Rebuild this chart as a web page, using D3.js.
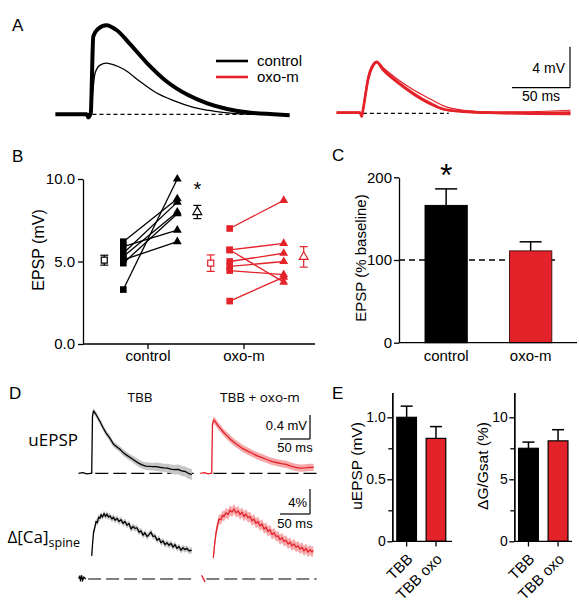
<!DOCTYPE html>
<html><head><meta charset="utf-8">
<script src="https://cdn.jsdelivr.net/npm/d3@7"></script>
<style>body{margin:0;background:#fff}svg{display:block}</style>
</head><body><svg id="c" width="579" height="610"></svg>
<script>
// ---------------- DATA ----------------
// Panel A: average EPSP traces (time ms, mV)
const aControlBig = [[-29,0],[-2,0],[-0.6,-0.3],[1.5,0.1],[3.7,7.6],[8,8.35],[15,8.7],[24,8.2],[35,6.9],[50,5.0],[67,3.2],[85,1.9],[102,1.07],[119,0.52],[136,0.2],[159,0],[173,-0.1]];
const aControlSmall = [[-2,0],[0.9,0.1],[5.2,4.0],[9.5,4.8],[15,5.0],[22,4.8],[30,4.4],[44,3.2],[58,2.1],[73,1.33],[90,0.68],[107,0.32],[124,0.1],[142,0]];
const aOxo1 = [[-21.6,0.05],[-1.5,0.05],[0,-0.33],[1.4,0.5],[5.7,3.4],[10,4.7],[12.9,5.03],[18.6,4.3],[30,3.15],[44.5,1.95],[59,0.98],[70,0.42],[88,0.16],[116,0.03],[145,-0.04],[180,-0.07]];
const aOxo2 = [[-21.6,0],[-1.5,0],[0,-0.3],[1.4,0.4],[5.7,3.2],[10,4.6],[13.5,4.95],[19,4.4],[30,3.4],[44.5,2.3],[59,1.4],[70,0.75],[88,0.3],[116,0.12],[145,0.15],[180,0.3]];
const aOxo3 = [[-21.6,0.1],[-1.5,0.1],[0,-0.2],[1.4,0.6],[5.7,3.6],[10,4.8],[12.5,5.0],[18,4.25],[30,3.05],[44.5,1.85],[59,0.9],[70,0.4],[88,0.18],[116,0.08],[145,0.05],[180,0.1]];
const legendLabels = ["control","oxo-m"];

// Panel B: paired EPSP (mV)
const bGroups = ["control","oxo-m"];
const bControlPre  = [6.2, 5.9, 5.5, 5.3, 5.1, 4.9, 3.3];
const bControlPost = [8.8, 6.9, 8.6, 8.0, 6.2, 7.9, 10.0];
const bOxoPre  = [7.0, 5.7, 5.7, 5.0, 4.7, 4.45, 2.6];
const bOxoPost = [8.7, 6.1, 3.75, 5.5, 5.0, 4.2, 4.05];
const bMeanPre  = [5.08, 4.9];
const bSemPre   = [0.3, 0.5];
const bMeanPost = [8.0, 5.28];
const bSemPost  = [0.4, 0.62];
const bTicks = [0, 5, 10];

// Panel C: EPSP (% baseline)
const cCats = ["control","oxo-m"];
const cVals = [166, 111];
const cSem  = [20, 11];
const cTicks = [0, 100, 200];

// Panel D: uEPSP (ms, mV, sem) and Ca (ms, %)
const dUepspTBB = [[-22,0,0.02],[-15,0.01,0.02],[-8,-0.01,0.02],[-2,0,0.02],[0,0,0.02],[1.3,0.95,0.05],[3,1.04,0.05],[6,1.0,0.05],[10,0.93,0.05],[14,0.86,0.05],[19,0.76,0.05],[24,0.67,0.05],[30,0.59,0.05],[36,0.49,0.05],[42,0.44,0.05],[47,0.40,0.05],[53,0.34,0.055],[60,0.29,0.055],[66,0.25,0.055],[72,0.21,0.06],[78,0.17,0.06],[84,0.14,0.06],[90,0.12,0.065],[96,0.115,0.065],[102,0.11,0.065],[108,0.11,0.07],[114,0.10,0.07],[120,0.09,0.07],[126,0.085,0.075],[132,0.07,0.075],[138,0.06,0.08],[144,0.065,0.08],[150,0.04,0.085],[156,0.03,0.085],[161,0.0,0.09],[167,-0.02,0.09]];
const dUepspOxo = [[-19,0,0.02],[-12,0.01,0.02],[-6,-0.01,0.02],[-2,0,0.02],[0,0,0.02],[1.3,0.82,0.06],[3.5,0.89,0.06],[6,0.86,0.06],[10,0.8,0.06],[15,0.74,0.06],[20,0.68,0.06],[26,0.62,0.06],[32,0.56,0.06],[38,0.51,0.06],[45,0.46,0.06],[52,0.41,0.06],[60,0.37,0.06],[68,0.33,0.06],[76,0.29,0.06],[84,0.26,0.06],[92,0.23,0.06],[100,0.2,0.06],[108,0.18,0.06],[116,0.16,0.06],[124,0.15,0.06],[132,0.12,0.06],[140,0.1,0.06],[148,0.085,0.06],[156,0.09,0.06],[163,0.1,0.06],[170,0.1,0.06]];
const dCaTBB = [[0,3.7],[1.3,5.4],[3,7.4],[5.5,8.4],[7.2,9.2],[9.7,9.0],[11.3,9.9],[13.8,9.7],[15.5,10.3],[18,9.9],[20.5,10.5],[23,10.0],[25.5,10.4],[28,9.9],[30.5,10.1],[33.8,9.6],[36.3,9.9],[38.8,9.4],[42.2,9.7],[45.5,9.2],[48.8,9.5],[52.2,8.9],[55.5,9.2],[58.8,8.6],[62.2,8.9],[65.5,8.0],[68.8,8.4],[72.2,8.1],[75.5,8.2],[78.8,7.5],[82.2,7.7],[85.5,7.0],[88.8,7.4],[92.2,6.8],[95.5,7.1],[98.8,7.5],[102.2,6.8],[105.5,6.9],[108.8,6.2],[112.2,6.5],[115.5,5.8],[118.8,6.1],[122.2,5.5],[125.5,5.8],[128.8,5.4],[132.2,5.7],[135.5,5.1],[138.8,5.5],[142.2,4.9],[145.5,5.2],[148.8,4.6],[152.2,5.0],[155.5,4.7],[158.8,4.9],[162.2,4.5],[166.7,4.6]];
const dCaOxo = [[2.7,3.4],[4.7,5.4],[7.2,7.4],[9.7,8.6],[12.2,9.6],[15.5,9.5],[18,10.2],[20.5,10.0],[23.8,10.6],[27.2,10.3],[30.5,11.0],[33.8,10.7],[37.2,11.2],[40.5,10.6],[43.8,10.9],[47.2,10.3],[50.5,10.7],[53.8,10.0],[57.2,10.4],[60.5,9.8],[63.8,10.0],[67.2,9.3],[70.5,9.6],[73.8,8.9],[77.2,9.2],[80.5,8.5],[83.8,8.8],[87.2,8.0],[90.5,8.3],[93.8,7.6],[97.2,7.9],[100.5,7.1],[103.8,7.4],[107.2,6.8],[110.5,6.9],[113.8,6.3],[117.2,6.6],[120.5,6.0],[123.8,6.2],[127.2,5.6],[130.5,5.9],[133.8,5.3],[137.2,5.6],[140.5,5.1],[143.8,5.3],[147.2,4.8],[150.5,5.1],[153.8,4.5],[157.2,4.9],[160.5,4.3],[163.8,4.7],[167.2,4.3],[169.3,4.6]];
const dCaTBBpre = [[-22,0.1],[-20,0.4],[-18.5,-0.4],[-17,0.6],[-15,-0.2],[-13,0.3],[-10,0]];
const dCaOxoPre = [[-17,0.6],[-15,0.3],[-13,-0.1],[-11,-0.5]];
const dCaSemTBB = 0.5, dCaSemOxo = 0.8;
const dTitles = ["TBB","TBB + oxo-m"];

// Panel E
const eCats = ["TBB","TBB oxo"];
const eUepsp = [1.0, 0.83];
const eUepspSem = [0.09, 0.095];
const eDG = [7.5, 8.1];
const eDGSem = [0.5, 0.9];

// ---------------- DRAW ----------------
const W=579, H=610;
const RED="#e4222a", PINK="#f6a9ab", GRAY="#c6c6c6";
const FONT='"Liberation Sans", Arial, sans-serif';
const DFONT='"Open Sans", Lato, sans-serif';
const svg=d3.select("#c");
svg.append("rect").attr("width",W).attr("height",H).attr("fill","#fff");

function txt(x,y,s,fs,anchor,fam,col){
  return svg.append("text").attr("x",x).attr("y",y).attr("font-size",fs)
    .attr("font-family",fam||FONT).attr("text-anchor",anchor||"start").attr("fill",col||"#000").text(s);
}
function hline(x1,x2,y,w,dash,col){
  return svg.append("line").attr("x1",x1).attr("x2",x2).attr("y1",y).attr("y2",y)
   .attr("stroke",col||"#000").attr("stroke-width",w||1.3).attr("stroke-dasharray",dash||null);
}
function vline(x,y1,y2,w,col){
  return svg.append("line").attr("x1",x).attr("x2",x).attr("y1",y1).attr("y2",y2)
   .attr("stroke",col||"#000").attr("stroke-width",w||1.3);
}
function styleAxis(g,fs){
  g.attr("font-family",FONT).attr("font-size",fs);
  g.selectAll("path,line").attr("stroke","#000").attr("stroke-width",1.3);
  g.selectAll("text").attr("fill","#000");
}

// panel letters
[["A",12,31],["B",12,162],["C",332,161],["D",9,399],["E",332,399]].forEach(d=>txt(d[1],d[2],d[0],17));

// ---- Panel A ----
const xA=d3.scaleLinear().domain([0,50]).range([89,147]);
const yA=d3.scaleLinear().domain([0,4]).range([114.3,73.3]);
const xAr=d3.scaleLinear().domain([0,50]).range([361.7,419.7]);
const yAr=d3.scaleLinear().domain([0,4]).range([113.3,72.3]);
hline(xA(3),xA(170),yA(0),1.2,"4,3");
hline(xAr(1),xAr(75),yAr(0),1.2,"4,3");
const lineA=d3.line().x(d=>xA(d[0])).y(d=>yA(d[1])).curve(d3.curveMonotoneX);
const lineAr=d3.line().x(d=>xAr(d[0])).y(d=>yAr(d[1])).curve(d3.curveMonotoneX);
svg.append("path").attr("d",lineA(aControlSmall)).attr("fill","none").attr("stroke","#000").attr("stroke-width",1.3);
svg.append("path").attr("d",lineA(aControlBig)).attr("fill","none").attr("stroke","#000").attr("stroke-width",4).attr("stroke-linejoin","round");
[[aOxo2,1.2],[aOxo3,2],[aOxo1,2.6]].forEach(([d,w])=>svg.append("path").attr("d",lineAr(d)).attr("fill","none").attr("stroke",RED).attr("stroke-width",w).attr("stroke-linejoin","round"));
legendLabels.forEach((l,i)=>{
  hline(216,248,61+i*16,2.6,null,i?RED:"#000");
  txt(257,66+i*16,l,15);
});
{
  const bx=570, by=87.7;
  vline(bx,by-(yAr(0)-yAr(4)),by,1.2);
  hline(bx-(xAr(50)-xAr(0)),bx,by,1.2);
  txt(565,73,"4 mV",14,"end");
  txt(541,101,"50 ms",14,"middle");
}

// ---- Panel B ----
const yB=d3.scaleLinear().domain([0,10]).range([344,179]);
const xB=d3.scaleLinear().domain([0,1]).range([150.3,256.7]);
const xBlab=d3.scalePoint().domain(bGroups).range([148,244]);
const off={meanPre:-46,pre:-27,post:27,meanPost:47};
const gyB=svg.append("g").attr("transform","translate(83,0)")
  .call(d3.axisLeft(yB).tickValues(bTicks).tickFormat(d3.format(".1f")).tickSize(5).tickPadding(3).tickSizeOuter(0));
styleAxis(gyB,15);
hline(83,315,344,1.3);
bGroups.forEach(g=>{
  vline(xBlab(g),344,349,1.3);
  txt(xBlab(g),361,g,15,"middle");
});
svg.append("text").attr("transform","translate(44,250) rotate(-90)").attr("text-anchor","middle")
  .attr("font-family",FONT).attr("font-size",16).text("EPSP  (mV)");
const sq=d3.symbol().type(d3.symbolSquare).size(44);
const tri=d3.symbol().type(d3.symbolTriangle).size(34);
[[bControlPre,bControlPost,"#000",0],[bOxoPre,bOxoPost,RED,1]].forEach(([pre,post,col,gi])=>{
  pre.forEach((v,k)=>{
    svg.append("line").attr("x1",xB(gi)+off.pre).attr("y1",yB(v))
      .attr("x2",xB(gi)+off.post).attr("y2",yB(post[k])).attr("stroke",col).attr("stroke-width",1.3);
  });
  pre.forEach(v=>svg.append("path").attr("d",sq).attr("transform",`translate(${xB(gi)+off.pre},${yB(v)})`).attr("fill",col));
  post.forEach(v=>svg.append("path").attr("d",tri).attr("transform",`translate(${xB(gi)+off.post},${yB(v)})`).attr("fill",col));
  const mp=[[off.meanPre,bMeanPre[gi],bSemPre[gi],d3.symbol().type(d3.symbolSquare).size(36)],
            [off.meanPost,bMeanPost[gi],bSemPost[gi],d3.symbol().type(d3.symbolTriangle).size(34)]];
  mp.forEach(([o,m,s,sym])=>{
    const x=xB(gi)+o;
    vline(x,yB(m+s),yB(m-s),1.2,col);
    hline(x-4,x+4,yB(m+s),1.2,null,col);
    hline(x-4,x+4,yB(m-s),1.2,null,col);
    svg.append("path").attr("d",sym).attr("transform",`translate(${x},${yB(m)})`).attr("fill","#fff").attr("stroke",col).attr("stroke-width",1.2);
  });
});
txt(xB(0)+off.meanPost,196,"*",20,"middle");

// ---- Panel C ----
const yC=d3.scaleLinear().domain([0,200]).range([342.7,177.3]);
const xC=d3.scaleBand().domain(cCats).range([403.9,572.9]).paddingInner(0.5).paddingOuter(0.25);
hline(399,558,yC(100),1.3,"6,4");
cCats.forEach((c,i)=>{
  const x0=xC(c), bw=xC.bandwidth(), cx=x0+bw/2;
  vline(cx,yC(cVals[i]+cSem[i]),yC(cVals[i]),1.5);
  hline(cx-11,cx+11,yC(cVals[i]+cSem[i]),1.5);
  svg.append("rect").attr("x",x0).attr("y",yC(cVals[i])).attr("width",bw).attr("height",yC(0)-yC(cVals[i]))
    .attr("fill",i?RED:"#000").attr("stroke",i?"#4a1212":"#000").attr("stroke-width",1);
  txt(cx,361,c,15,"middle");
});
const gyC=svg.append("g").attr("transform","translate(399,0)")
  .call(d3.axisLeft(yC).tickValues(cTicks).tickSize(5).tickPadding(2).tickSizeOuter(0));
styleAxis(gyC,15);
hline(399,577,yC(0),1.3);
txt(xC("control")+xC.bandwidth()/2,186,"*",32,"middle");
svg.append("text").attr("transform","translate(366,258) rotate(-90)").attr("text-anchor","middle")
  .attr("font-family",FONT).attr("font-size",15).text("EPSP (% baseline)");

// ---- Panel D ----
const xDb=d3.scaleLinear().domain([0,50]).range([91.7,121.7]);
const xDr=d3.scaleLinear().domain([0,50]).range([211.7,241.7]);
const yDu=d3.scaleLinear().domain([0,0.4]).range([473.3,449.3]);
const yDc=d3.scaleLinear().domain([0,4]).range([579,554]);
dTitles.forEach((t,i)=>txt(i?260:140,402,t,13.5,"middle",DFONT));
txt(78,446,"uEPSP",17,"end",DFONT);
{
  const t=svg.append("text").attr("x",80).attr("y",543).attr("text-anchor","end").attr("font-family",DFONT).attr("fill","#000");
  t.append("tspan").attr("font-size",17).text("\u0394[Ca]");
  t.append("tspan").attr("font-size",12.5).attr("dy",4).text("spine");
}
function trace(data,xs,ys,col,band,semConst){
  const area=d3.area().x(d=>xs(d[0])).y0(d=>ys(d[1]-(semConst!=null?semConst:d[2]))).y1(d=>ys(d[1]+(semConst!=null?semConst:d[2])));
  svg.append("path").attr("d",area(data.filter(d=>d[0]>=0))).attr("fill",band);
  svg.append("path").attr("d",d3.line().x(d=>xs(d[0])).y(d=>ys(d[1]))(data)).attr("fill","none").attr("stroke",col).attr("stroke-width",1.3).attr("stroke-linejoin","round");
}
hline(xDb(6),xDb(170),yDu(0),1.2,"13,5");
hline(xDr(3),xDr(175),yDu(0),1.2,"13,5");
trace(dUepspTBB,xDb,yDu,"#000",GRAY);
trace(dUepspOxo,xDr,yDu,RED,PINK);
hline(xDb(-6),xDb(170),yDc(0),1.2,"13,5");
hline(xDr(-9),xDr(175),yDc(0),1.2,"13,5");
trace(dCaTBB,xDb,yDc,"#000",GRAY,dCaSemTBB);
trace(dCaOxo,xDr,yDc,RED,PINK,dCaSemOxo);
svg.append("path").attr("d",d3.line().x(d=>xDb(d[0])).y(d=>yDc(d[1]))(dCaTBBpre)).attr("fill","none").attr("stroke","#000").attr("stroke-width",1.3);
svg.append("path").attr("d",d3.line().x(d=>xDr(d[0])).y(d=>yDc(d[1]))(dCaOxoPre)).attr("fill","none").attr("stroke",RED).attr("stroke-width",1.3);
{
  const bx=310, by1=439, by2=514;
  vline(bx,by1-(yDu(0)-yDu(0.4)),by1,1.2);
  hline(bx-(xDr(50)-xDr(0)),bx,by1,1.2);
  txt(307,430,"0.4 mV",13,"end");
  txt(295,452,"50 ms",13,"middle");
  vline(bx,by2-(yDc(0)-yDc(4)),by2,1.2);
  hline(bx-(xDr(50)-xDr(0)),bx,by2,1.2);
  txt(307,507,"4%",13,"end");
  txt(295,528,"50 ms",13,"middle");
}

// ---- Panel E ----
function ePanel(axX,xEnd,bandRange,yMax,major,minor,fmt,vals,sems,ylab,ylabX){
  const y=d3.scaleLinear().domain([0,yMax]).range([541.3,392.5]);
  const x=d3.scaleBand().domain(eCats).range(bandRange).paddingInner(0.33).paddingOuter(0.12);
  eCats.forEach((c,i)=>{
    const x0=x(c), bw=x.bandwidth(), cx=x0+bw/2;
    vline(cx,y(vals[i]+sems[i]),y(vals[i]),1.5);
    hline(cx-6,cx+6,y(vals[i]+sems[i]),1.5);
    svg.append("rect").attr("x",x0).attr("y",y(vals[i])).attr("width",bw).attr("height",y(0)-y(vals[i]))
      .attr("fill",i?RED:"#000").attr("stroke","#000").attr("stroke-width",1.2);
    vline(cx,541.3,546.5,1.3);
    svg.append("text").attr("transform",`translate(${cx+7},560) rotate(-45)`).attr("text-anchor","end")
      .attr("font-family",FONT).attr("font-size",15).text(c);
  });
  const g=svg.append("g").attr("transform",`translate(${axX},0)`)
    .call(d3.axisLeft(y).tickValues(major).tickFormat(fmt).tickSize(5).tickPadding(1.5).tickSizeOuter(0));
  styleAxis(g,14);
  const gm=svg.append("g").attr("transform",`translate(${axX},0)`)
    .call(d3.axisLeft(y).tickValues(minor).tickFormat("").tickSize(4).tickSizeOuter(0));
  styleAxis(gm,14);
  hline(axX,xEnd,541.3,1.3);
  svg.append("text").attr("transform",`translate(${ylabX},466) rotate(-90)`).attr("text-anchor","middle")
    .attr("font-family",FONT).attr("font-size",15.5).text(ylab);
}
ePanel(392.3,452,[393.3,449.3],1.2,[0,0.5,1.0],[0.25,0.75],d=>d===0?"0":d3.format(".1f")(d),eUepsp,eUepspSem,"uEPSP (mV)",362);
ePanel(514.3,572,[515,571.5],12,[0,5,10],[2.5,7.5],d3.format("d"),eDG,eDGSem,"\u0394G/Gsat (%)",488);
</script></body></html>
